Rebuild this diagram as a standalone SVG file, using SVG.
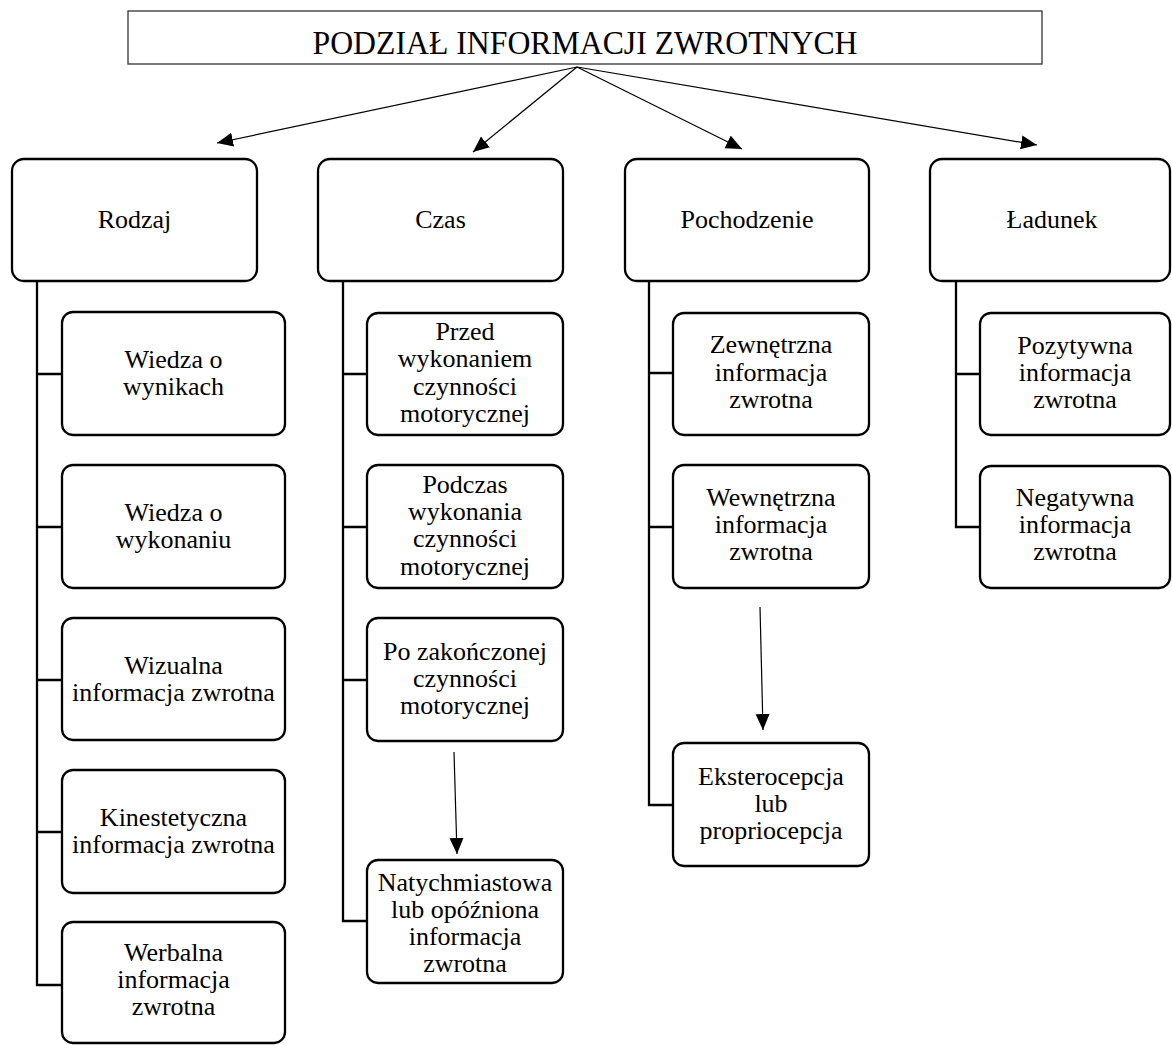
<svg xmlns="http://www.w3.org/2000/svg" width="1172" height="1045" viewBox="0 0 1172 1045">
<style>
text{font-family:"Liberation Serif","Times New Roman",serif;font-size:26px;fill:#000;text-anchor:middle}
.title{font-size:33px}
.tb{fill:#fff;stroke:#333;stroke-width:1.3}
.nb{fill:#fff;stroke:#000;stroke-width:2.3}
.tree{fill:none;stroke:#000;stroke-width:2.3}
.arr{fill:none;stroke:#000;stroke-width:1.2}
</style>
<defs>
<marker id="ah" markerUnits="userSpaceOnUse" markerWidth="18" markerHeight="16" refX="16" refY="7" orient="auto">
<path d="M0,0 L16,7 L0,14 z" fill="#000"/>
</marker>
</defs>
<rect width="1172" height="1045" fill="#fff"/>
<g id="connectors">
<line class="arr" x1="577" y1="67" x2="217" y2="143" marker-end="url(#ah)"/>
<line class="arr" x1="577" y1="67" x2="473" y2="152" marker-end="url(#ah)"/>
<line class="arr" x1="577" y1="67" x2="742" y2="149" marker-end="url(#ah)"/>
<line class="arr" x1="577" y1="67" x2="1037" y2="145" marker-end="url(#ah)"/>
<line class="arr" x1="454" y1="752" x2="457" y2="854" marker-end="url(#ah)"/>
<line class="arr" x1="760" y1="607" x2="763" y2="730" marker-end="url(#ah)"/>
<path class="tree" d="M37,281 V985 H62 M37,374 H62 M37,527 H62 M37,680 H62 M37,832 H62"/>
<path class="tree" d="M343,281 V921 H367 M343,374 H367 M343,527 H367 M343,680 H367"/>
<path class="tree" d="M649,281 V805 H673 M649,373 H673 M649,527 H673"/>
<path class="tree" d="M956,280 V527 H980 M956,374 H980"/>
</g>
<g id="title">
<rect class="tb" x="128" y="11" width="914" height="53"/>
<text class="title" x="585" y="54" textLength="545" lengthAdjust="spacingAndGlyphs">PODZIAŁ INFORMACJI ZWROTNYCH</text>
</g>
<g id="rodzaj">
<rect class="nb" x="12" y="159" width="245" height="122" rx="12"/>
<text x="134.5" y="228">Rodzaj</text>
</g>
<g id="czas">
<rect class="nb" x="318" y="159" width="245" height="122" rx="12"/>
<text x="440.5" y="228">Czas</text>
</g>
<g id="pochodzenie">
<rect class="nb" x="625" y="159" width="244" height="122" rx="12"/>
<text x="747" y="228">Pochodzenie</text>
</g>
<g id="ladunek">
<rect class="nb" x="930" y="159" width="240" height="122" rx="12"/>
<text x="1052" y="228">Ładunek</text>
</g>
<g id="wiedza-wyniki">
<rect class="nb" x="62" y="312" width="223" height="123" rx="11"/>
<text x="173.5" y="368">Wiedza o<tspan x="173.5" y="395">wynikach</tspan></text>
</g>
<g id="wiedza-wykonanie">
<rect class="nb" x="62" y="465" width="223" height="123" rx="11"/>
<text x="173.5" y="521">Wiedza o<tspan x="173.5" y="548">wykonaniu</tspan></text>
</g>
<g id="wizualna">
<rect class="nb" x="62" y="618" width="223" height="122" rx="11"/>
<text x="173.5" y="673.5">Wizualna<tspan x="173.5" y="701">informacja zwrotna</tspan></text>
</g>
<g id="kinestetyczna">
<rect class="nb" x="62" y="770" width="223" height="123" rx="11"/>
<text x="173.5" y="826">Kinestetyczna<tspan x="173.5" y="853">informacja zwrotna</tspan></text>
</g>
<g id="werbalna">
<rect class="nb" x="62" y="922" width="223" height="121" rx="11"/>
<text x="173.5" y="961">Werbalna<tspan x="173.5" y="988">informacja</tspan><tspan x="173.5" y="1015">zwrotna</tspan></text>
</g>
<g id="przed">
<rect class="nb" x="367" y="313" width="196" height="122" rx="11"/>
<text x="465" y="340">Przed<tspan x="465" y="367">wykonaniem</tspan><tspan x="465" y="395">czynności</tspan><tspan x="465" y="422">motorycznej</tspan></text>
</g>
<g id="podczas">
<rect class="nb" x="367" y="465" width="196" height="123" rx="11"/>
<text x="465" y="493">Podczas<tspan x="465" y="520">wykonania</tspan><tspan x="465" y="547">czynności</tspan><tspan x="465" y="575">motorycznej</tspan></text>
</g>
<g id="po-zakonczonej">
<rect class="nb" x="367" y="618" width="196" height="123" rx="11"/>
<text x="465" y="660">Po zakończonej<tspan x="465" y="687">czynności</tspan><tspan x="465" y="714">motorycznej</tspan></text>
</g>
<g id="natychmiastowa">
<rect class="nb" x="367" y="860" width="196" height="123" rx="11"/>
<text x="465" y="891">Natychmiastowa<tspan x="465" y="918">lub opóźniona</tspan><tspan x="465" y="945">informacja</tspan><tspan x="465" y="972">zwrotna</tspan></text>
</g>
<g id="zewnetrzna">
<rect class="nb" x="673" y="313" width="196" height="122" rx="11"/>
<text x="771" y="353">Zewnętrzna<tspan x="771" y="381">informacja</tspan><tspan x="771" y="408">zwrotna</tspan></text>
</g>
<g id="wewnetrzna">
<rect class="nb" x="673" y="465" width="196" height="123" rx="11"/>
<text x="771" y="506">Wewnętrzna<tspan x="771" y="533">informacja</tspan><tspan x="771" y="560">zwrotna</tspan></text>
</g>
<g id="eksterocepcja">
<rect class="nb" x="673" y="743" width="196" height="123" rx="11"/>
<text x="771" y="785">Eksterocepcja<tspan x="771" y="812">lub</tspan><tspan x="771" y="839">propriocepcja</tspan></text>
</g>
<g id="pozytywna">
<rect class="nb" x="980" y="313" width="190" height="122" rx="11"/>
<text x="1075" y="354">Pozytywna<tspan x="1075" y="381">informacja</tspan><tspan x="1075" y="408">zwrotna</tspan></text>
</g>
<g id="negatywna">
<rect class="nb" x="980" y="466" width="190" height="122" rx="11"/>
<text x="1075" y="506">Negatywna<tspan x="1075" y="533">informacja</tspan><tspan x="1075" y="560">zwrotna</tspan></text>
</g>
</svg>
